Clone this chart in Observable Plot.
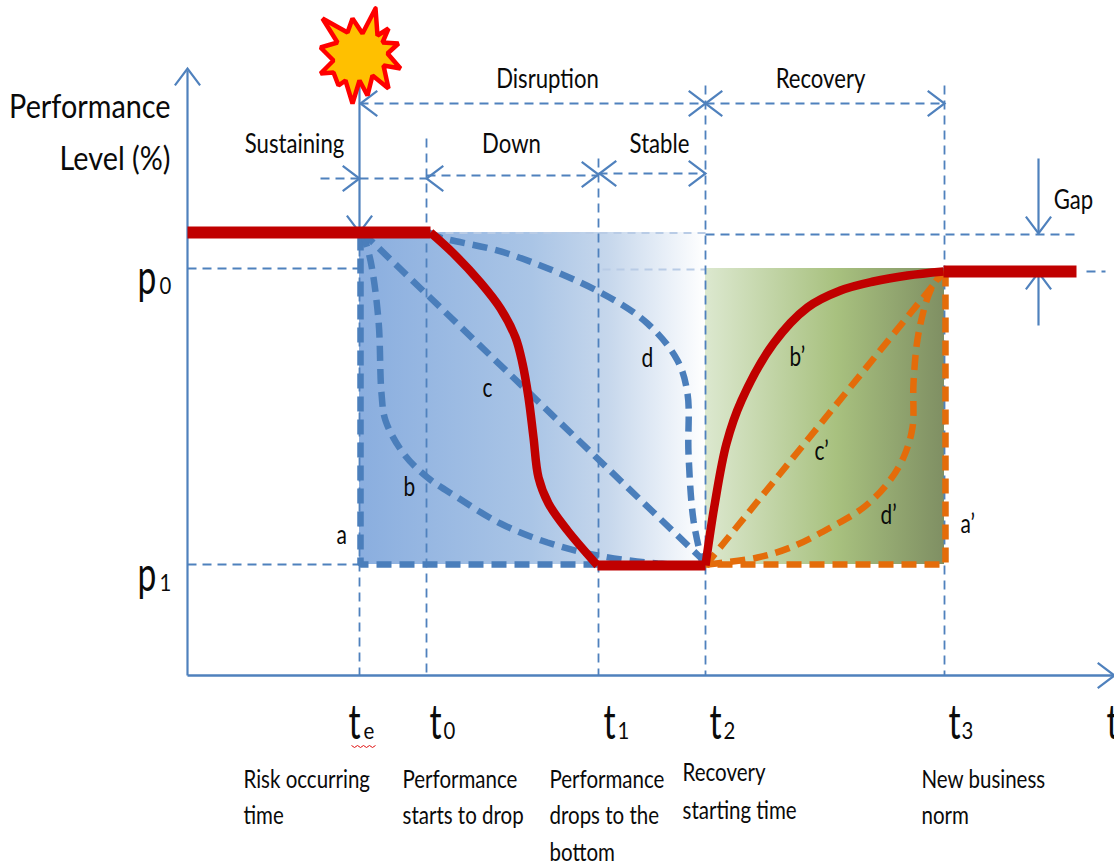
<!DOCTYPE html>
<html>
<head>
<meta charset="utf-8">
<script src="https://cdn.jsdelivr.net/npm/d3@7"></script>
<script src="https://cdn.jsdelivr.net/npm/@observablehq/plot@0.6"></script>
<style>html,body{margin:0;padding:0;background:#fff;overflow:hidden}svg{display:block}</style>
</head>
<body>
<div id="chart"></div>
<script>
// Key instants and levels (time, performance)
const te = 17.2, t0 = 23.9, t1 = 41.1, t2 = 51.8, t3 = 75.7;
const pTop = 44.3, p0 = 40.7, p1 = 11.1;

// Performance curves
const redStart = [[0,44.3],[24.3,44.3]];
const redDrop = [[24.3,44.3],[26.6,42.2],[29.3,39.3],[31.3,36.7],[32.8,33.8],[33.5,31.2],[34.1,27.8],[34.6,23.8],[35.1,19.8],[36.1,17.2],[38,14.5],[41,11]];
const redBottom = [[41,11],[51.8,11]];
const redRecovery = [[51.8,11],[52.7,17],[53.9,23.2],[55.4,27.5],[58.6,33.2],[62,36.8],[65.3,38.5],[68.6,39.4],[72,40],[75.6,40.4]];
const redEnd = [[75.6,40.4],[88.9,40.4]];
const curveA = [[17.3,44],[17.3,11.1],[51.8,11.1]];
const curveB = [[17.5,44.3],[18.3,41.5],[19.1,35.5],[19.4,28.2],[19.8,25.5],[21.6,22.2],[24,19.8],[27,17.8],[31.3,15.2],[36,13.3],[41,12],[47,11.2],[51.6,11]];
const curveC = [[17.5,44.3],[51.6,11.5]];
const curveD = [[24.1,44.3],[25.3,43.8],[32,42.2],[41.3,38.3],[46,35.2],[49,31.5],[50,28.2],[50.1,22.2],[50.6,15.5],[51.5,11.2]];
const curveAp = [[75.8,40.4],[75.8,11.1],[51.8,11.1]];
const curveCp = [[51.8,11],[75.6,40.3]];
const curveDp = [[52,11.1],[57,11.8],[60.3,12.8],[64.3,14.8],[67.6,16.8],[70,19.2],[71.6,21.8],[72.5,24.8],[72.6,29.2],[73.1,34.2],[74.3,38.5],[75.6,40.5]];

// Guides
const guidesH = [[0,te,p0],[0,te,p1],[t2,88.9,44.1],[89.9,91.8,40.4],[13.3,te,49.7],[te,t0,49.7],[t0,t1,50],[t1,t2,50.2],[te,t2,57.2],[t2,t3,57.2]];
const guidesFaint = [[24.4,t2,44.25],[41.5,t2,40.6]];
const guidesV = [[te,44.3,0],[t0,53.7,0],[t1,51.7,0],[t2,59,0],[t3,59,0]];
const solidV = [[0,60.5,0,0],[te,60,te,44.3],[85.1,51.7,85.1,44.2],[85.1,35,85.1,40.3]];
const solidH = [[0,0,92.6,0]];

// Open arrowheads: tip time, tip level, heading in degrees
const heads = [[0,60.7,-90],[92.7,0,0],[te,44.3,90],[te,49.7,0],[t0,49.7,180],[t1,50.1,0],[t1+0.1,50.2,180],[t2,50.2,0],[te+0.1,57.2,180],[t2,57.2,0],[t2,57.2,180],[t3,57.2,0],[85.1,44.2,90],[85.1,40.3,-90]];

// Burst
const burst = [[18.8,66.7],[19,64],[20.1,64.7],[19.5,63.3],[21.1,63.2],[20,62.2],[21.3,60.7],[19.6,61],[20.1,58.7],[18.5,60],[18,58],[17.2,59.5],[16.5,57.2],[15.8,59.5],[15.1,59],[14.6,60.3],[13.3,60.2],[14.6,61.5],[13.3,62.8],[15,63.3],[13.5,65.7],[16,64.3],[16.5,65.7],[17.5,64.2],[18.8,66.7]];
const squiggle = [[16.4,-7],[16.7,-7.2],[17,-7],[17.3,-7.2],[17.6,-7],[17.9,-7.2],[18.2,-7],[18.5,-7.2],[18.8,-7]];

// Text: label, time, level
const axisTitle = [["Performance",-1.7,55.8],["Level (%)",-1.7,50.6]];
const spanLabels = [["Disruption",36,58.8],["Recovery",63.3,58.8],["Sustaining",10.7,52.3],["Down",32.4,52.3],["Stable",47.2,52.3],["Gap",88.6,46.7]];
const curveLabels = [["a",14.9,13.2],["b",21.6,18],["c",29.5,27.9],["d",45.4,30.9],["b’",60.2,31],["c’",62.7,21.6],["d’",69.3,15.2],["a’",77.3,14.3]];
const mainSymbols = [["p",-5,38.2],["p",-5,8.5],["t",16.1,-6.3],["t",24.2,-6.3],["t",41.6,-6.3],["t",52.2,-6.3],["t",76.1,-6.3],["t",91.9,-6.3]];
const subscripts = [["0",-2.8,38.2],["1",-2.8,8.5],["e",17.6,-6.3],["0",25.6,-6.3],["1",43,-6.3],["2",53.6,-6.3],["3",77.4,-6.3]];
const captions = [
  ["Risk occurring",5.6,-11.2],["time",5.6,-14.8],
  ["Performance",21.5,-11.2],["starts to drop",21.5,-14.8],
  ["Performance",36.2,-11.2],["drops to the",36.2,-14.8],["bottom",36.2,-18.5],
  ["Recovery",49.5,-10.5],["starting time",49.5,-14.3],
  ["New business",73.4,-11.2],["norm",73.4,-14.8]
];

const BLUE = "#4A7EBB", GUIDE = "#4F81BD", ORANGE = "#E46C0A", RED = "#C00000";
const FONT = "Lato, 'Open Sans', sans-serif";
// Horizontal squeeze of each text size, to match the reference's narrow lettering
const squeeze = {32: 0.9, 27: 0.82, 26: 0.8, 25: 0.82, 24: 0.85, 48: 0.7};

const chevron = {draw(ctx, size) {
  const r = Math.sqrt(size / Math.PI);
  ctx.moveTo(-r * 0.8, -r * 0.6); ctx.lineTo(0, 0); ctx.lineTo(-r * 0.8, r * 0.6);
}};

const defs = () => {
  const d = d3.create("svg:defs");
  const grad = (id, stops) => {
    const g = d.append("linearGradient").attr("id", id);
    stops.forEach(([o, c]) => g.append("stop").attr("offset", o).attr("stop-color", c));
  };
  grad("blueFill", [[0, "#8AAEDF"], [0.5, "#AAC5E6"], [0.72, "#C6D7EC"], [1, "#FFFFFF"]]);
  grad("greenFill", [[0, "#DCE8CF"], [0.55, "#A8C17F"], [1, "#7F8F63"]]);
  return d.node();
};

const X = d => d[0], Y = d => d[1];
const curve = (pts, stroke, w, dash, name = "catmull-rom") =>
  Plot.line(pts, {x: X, y: Y, stroke, strokeWidth: w, strokeDasharray: dash, curve: name, strokeLinejoin: "miter", strokeLinecap: "butt"});
const label = (rows, size, anchor = "start", fill = "#0a0a0a") =>
  Plot.text(rows, {x: d => d[1], y: d => d[2], text: d => d[0], fontSize: size, textAnchor: anchor, lineAnchor: "bottom", fill, fontFamily: FONT, className: "sq" + size});

const chart = Plot.plot({
  width: 1114, height: 865,
  margin: 0,
  style: {background: "#fff"},
  x: {domain: [-18.7, 92.7], range: [0, 1114], axis: null},
  y: {domain: [67.5, -19], range: [0, 865], axis: null},
  marks: [
    defs,
    Plot.rect([[te, t2, p1, pTop]], {x1: d => d[0], x2: d => d[1], y1: d => d[2], y2: d => d[3], fill: "url(#blueFill)"}),
    Plot.rect([[t2, t3, p1, p0]], {x1: d => d[0], x2: d => d[1], y1: d => d[2], y2: d => d[3], fill: "url(#greenFill)"}),
    Plot.link(guidesFaint, {x1: d => d[0], x2: d => d[1], y1: d => d[2], y2: d => d[2], stroke: "#B9CCE6", strokeWidth: 2, strokeDasharray: "8,6"}),
    Plot.link(guidesH, {x1: d => d[0], x2: d => d[1], y1: d => d[2], y2: d => d[2], stroke: GUIDE, strokeWidth: 2.2, strokeDasharray: "9,6"}),
    Plot.link(guidesV, {x1: d => d[0], x2: d => d[0], y1: d => d[1], y2: d => d[2], stroke: GUIDE, strokeWidth: 1.8, strokeDasharray: "9,6"}),
    Plot.link(solidV, {x1: d => d[0], x2: d => d[2], y1: d => d[1], y2: d => d[3], stroke: GUIDE, strokeWidth: 2.2}),
    Plot.link(solidH, {x1: d => d[0], x2: d => d[2], y1: d => d[1], y2: d => d[3], stroke: GUIDE, strokeWidth: 2.6}),
    Plot.dot(heads, {x: X, y: Y, rotate: d => d[2], symbol: chevron, r: 21, fill: "none", stroke: GUIDE, strokeWidth: 2.2}),
    Plot.line(burst, {x: X, y: Y, fill: "#FFC000", stroke: "#FF0000", strokeWidth: 4.5, curve: "linear", strokeLinejoin: "miter"}),
    curve(curveA, BLUE, 6.5, "15,8", "linear"),
    curve(curveB, BLUE, 6.5, "15,8"),
    curve(curveC, BLUE, 6.5, "15,8", "linear"),
    curve(curveD, BLUE, 6.5, "15,8"),
    curve(curveAp, ORANGE, 6.5, "15,8", "linear"),
    curve(curveCp, ORANGE, 6.5, "15,8", "linear"),
    curve(curveDp, ORANGE, 6.5, "15,8"),
    curve(redStart, RED, 12, null, "linear"),
    curve(redDrop, RED, 8.5),
    curve(redBottom, RED, 10, null, "linear"),
    curve(redRecovery, RED, 8.5),
    curve(redEnd, RED, 12, null, "linear"),
    label(axisTitle, 32, "end"),
    label(spanLabels, 27, "middle"),
    label(curveLabels, 26),
    label(mainSymbols, 48),
    label(subscripts, 24),
    label(captions, 25),
    curve(squiggle, "#E01010", 1, null, "linear")
  ]
});
document.getElementById("chart").appendChild(chart);
// Narrow each text, now that it is in the page and can be measured
Object.entries(squeeze).forEach(([size, k]) => {
  chart.querySelectorAll(`g.sq${size} text`).forEach(t => {
    t.setAttribute("textLength", (t.getComputedTextLength() * k).toFixed(1));
    t.setAttribute("lengthAdjust", "spacingAndGlyphs");
  });
});
</script>
</body>
</html>
